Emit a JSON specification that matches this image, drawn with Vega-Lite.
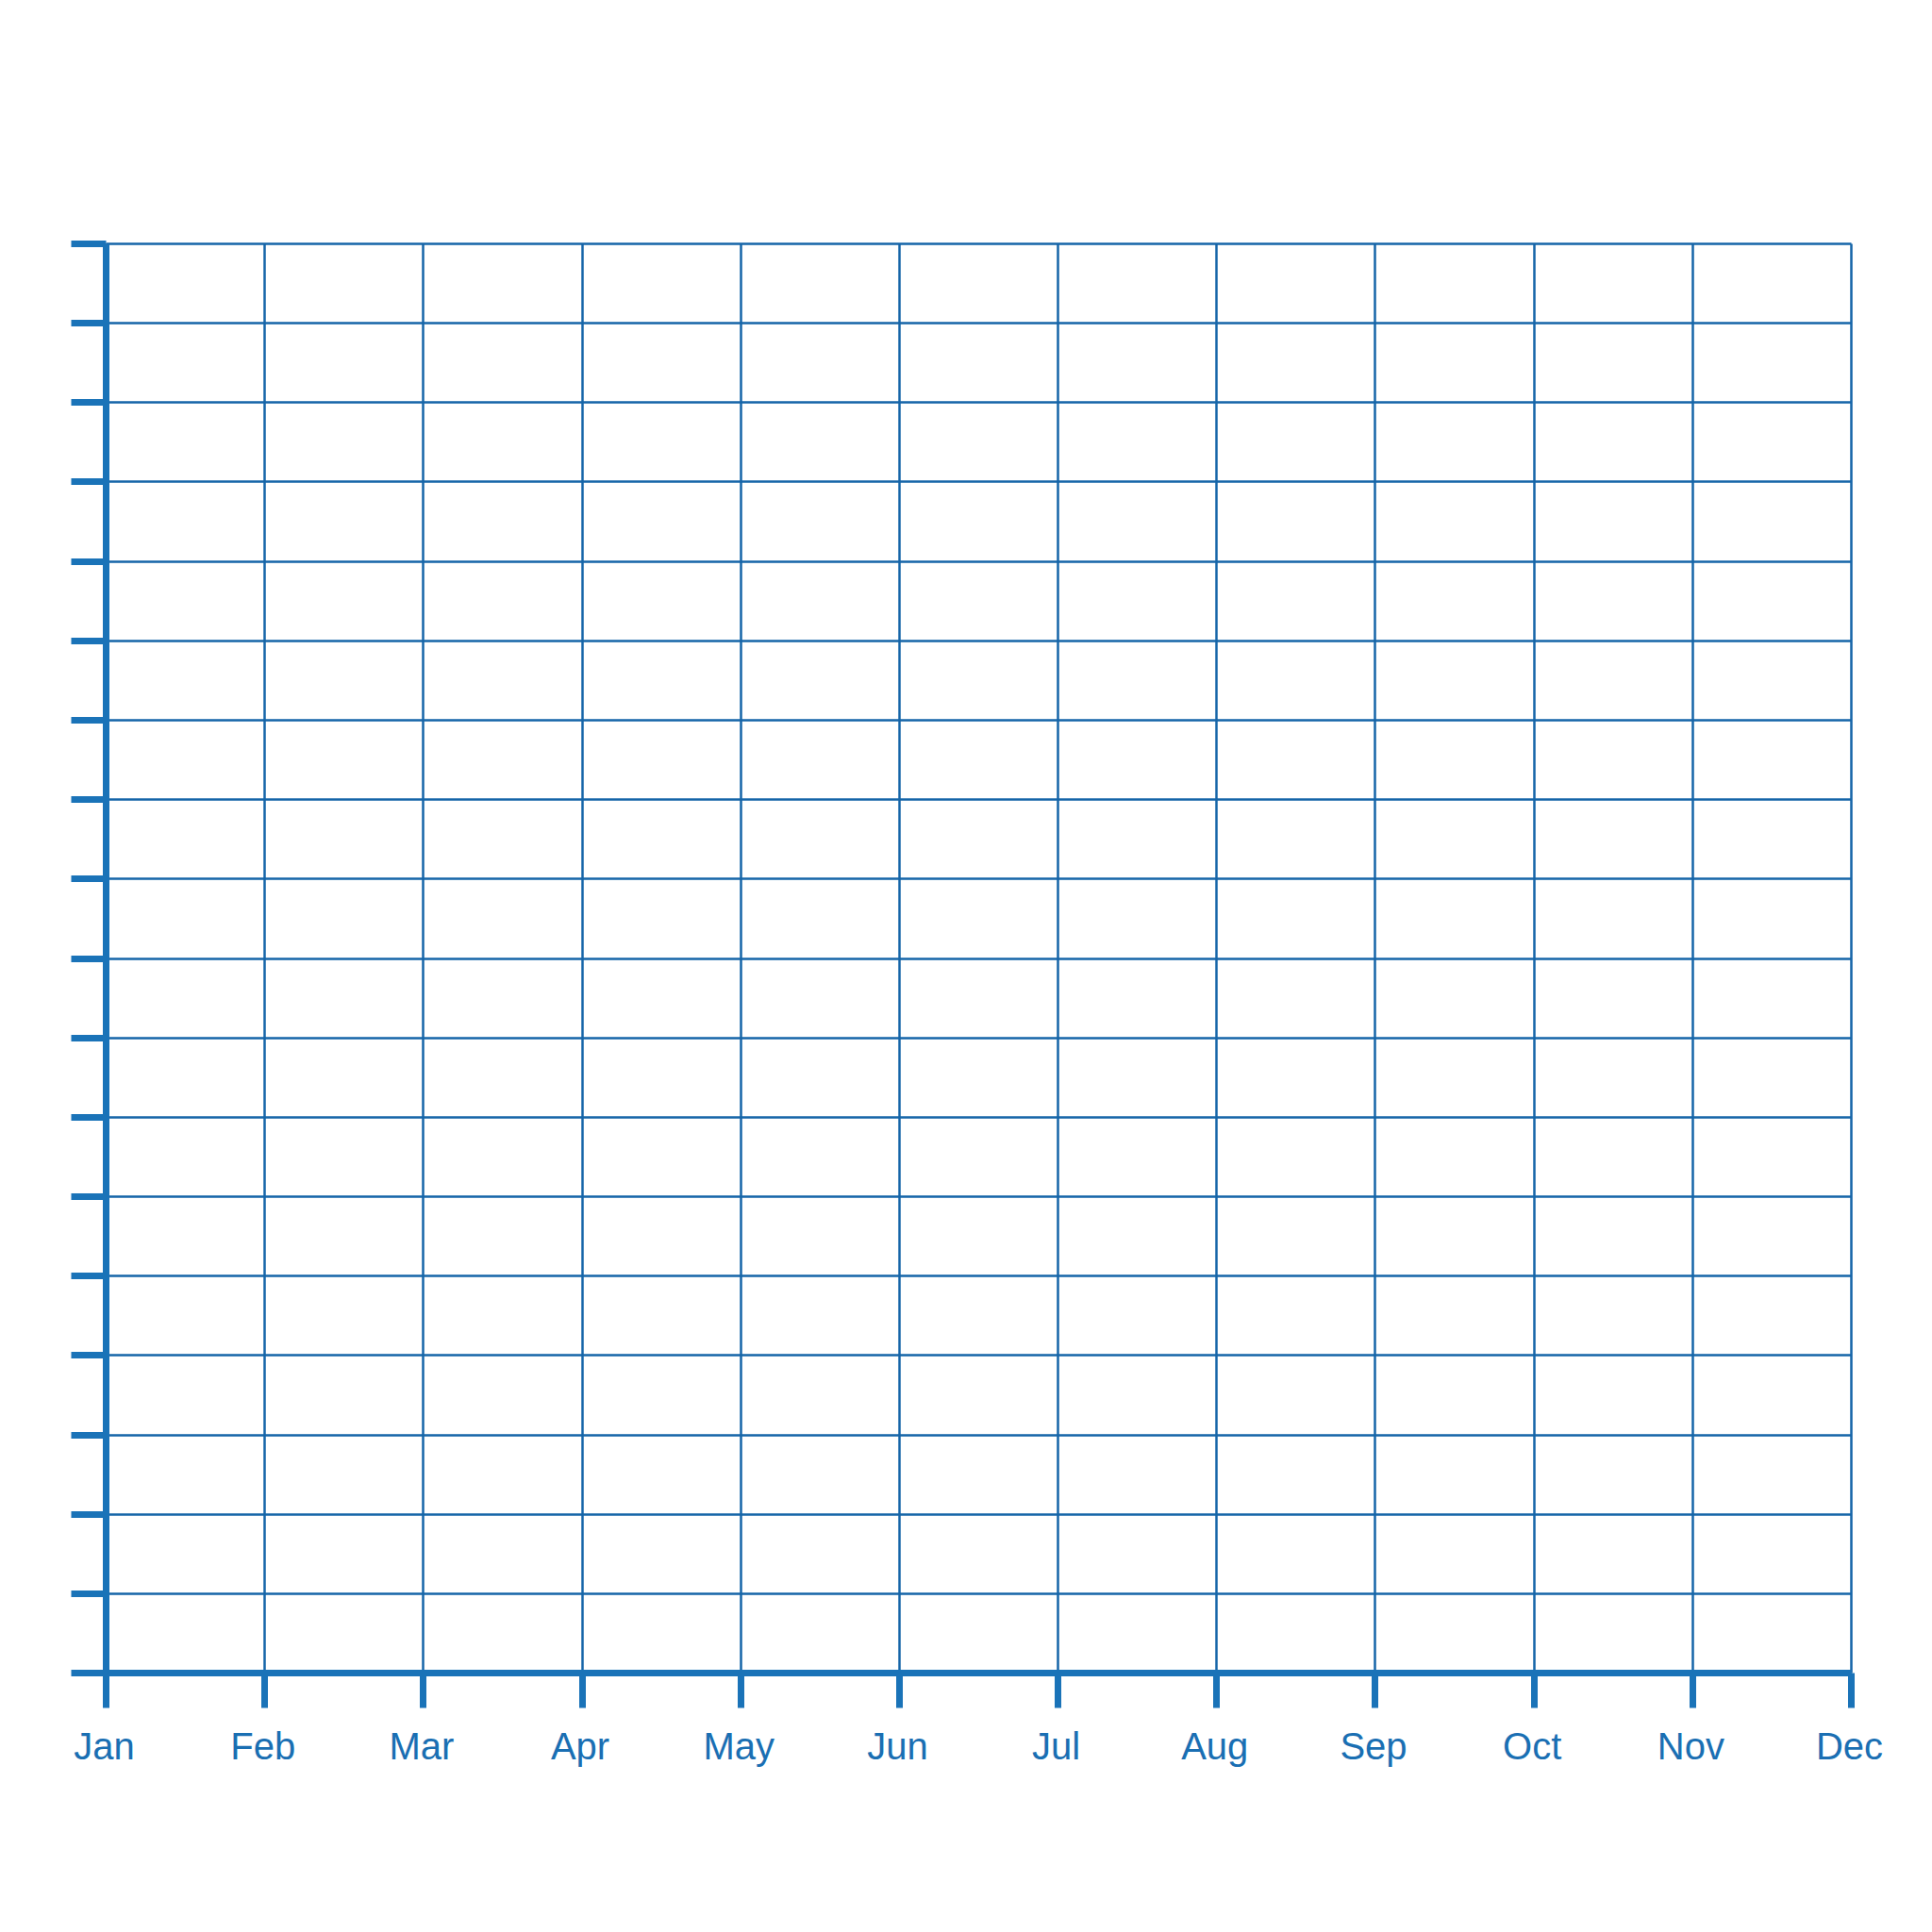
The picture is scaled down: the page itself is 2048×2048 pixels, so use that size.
{
  "$schema": "https://vega.github.io/schema/vega-lite/v6.json",
  "width": 1850,
  "height": 1515,
  "autosize": {"type": "none"},
  "padding": {"left": 112, "top": 258, "right": 86, "bottom": 275},
  "background": "white",
  "config": {
    "view": {"stroke": null},
    "axis": {
      "domainColor": "#1a73b8",
      "domainWidth": 7,
      "tickColor": "#1a73b8",
      "tickWidth": 7,
      "tickSize": 37,
      "gridColor": "#1565a8",
      "gridWidth": 2.5,
      "gridOpacity": 1,
      "labelColor": "#1a6fb3",
      "labelFont": "Liberation Sans",
      "labelFontSize": 40,
      "title": null
    }
  },
  "data": {
    "values": [
      {"month": "Jan", "value": 0},
      {"month": "Feb", "value": 0},
      {"month": "Mar", "value": 0},
      {"month": "Apr", "value": 0},
      {"month": "May", "value": 0},
      {"month": "Jun", "value": 0},
      {"month": "Jul", "value": 0},
      {"month": "Aug", "value": 0},
      {"month": "Sep", "value": 0},
      {"month": "Oct", "value": 0},
      {"month": "Nov", "value": 0},
      {"month": "Dec", "value": 0}
    ]
  },
  "mark": {"type": "point", "opacity": 0},
  "encoding": {
    "x": {
      "field": "month",
      "type": "ordinal",
      "sort": null,
      "scale": {"type": "point", "padding": 0},
      "axis": {"labelAngle": 0, "labelPadding": 22, "labelOffset": -2, "grid": true}
    },
    "y": {
      "field": "value",
      "type": "quantitative",
      "scale": {"domain": [0, 18], "nice": false, "zero": true},
      "axis": {
        "values": [0, 1, 2, 3, 4, 5, 6, 7, 8, 9, 10, 11, 12, 13, 14, 15, 16, 17, 18],
        "labels": false,
        "grid": true
      }
    }
  }
}
